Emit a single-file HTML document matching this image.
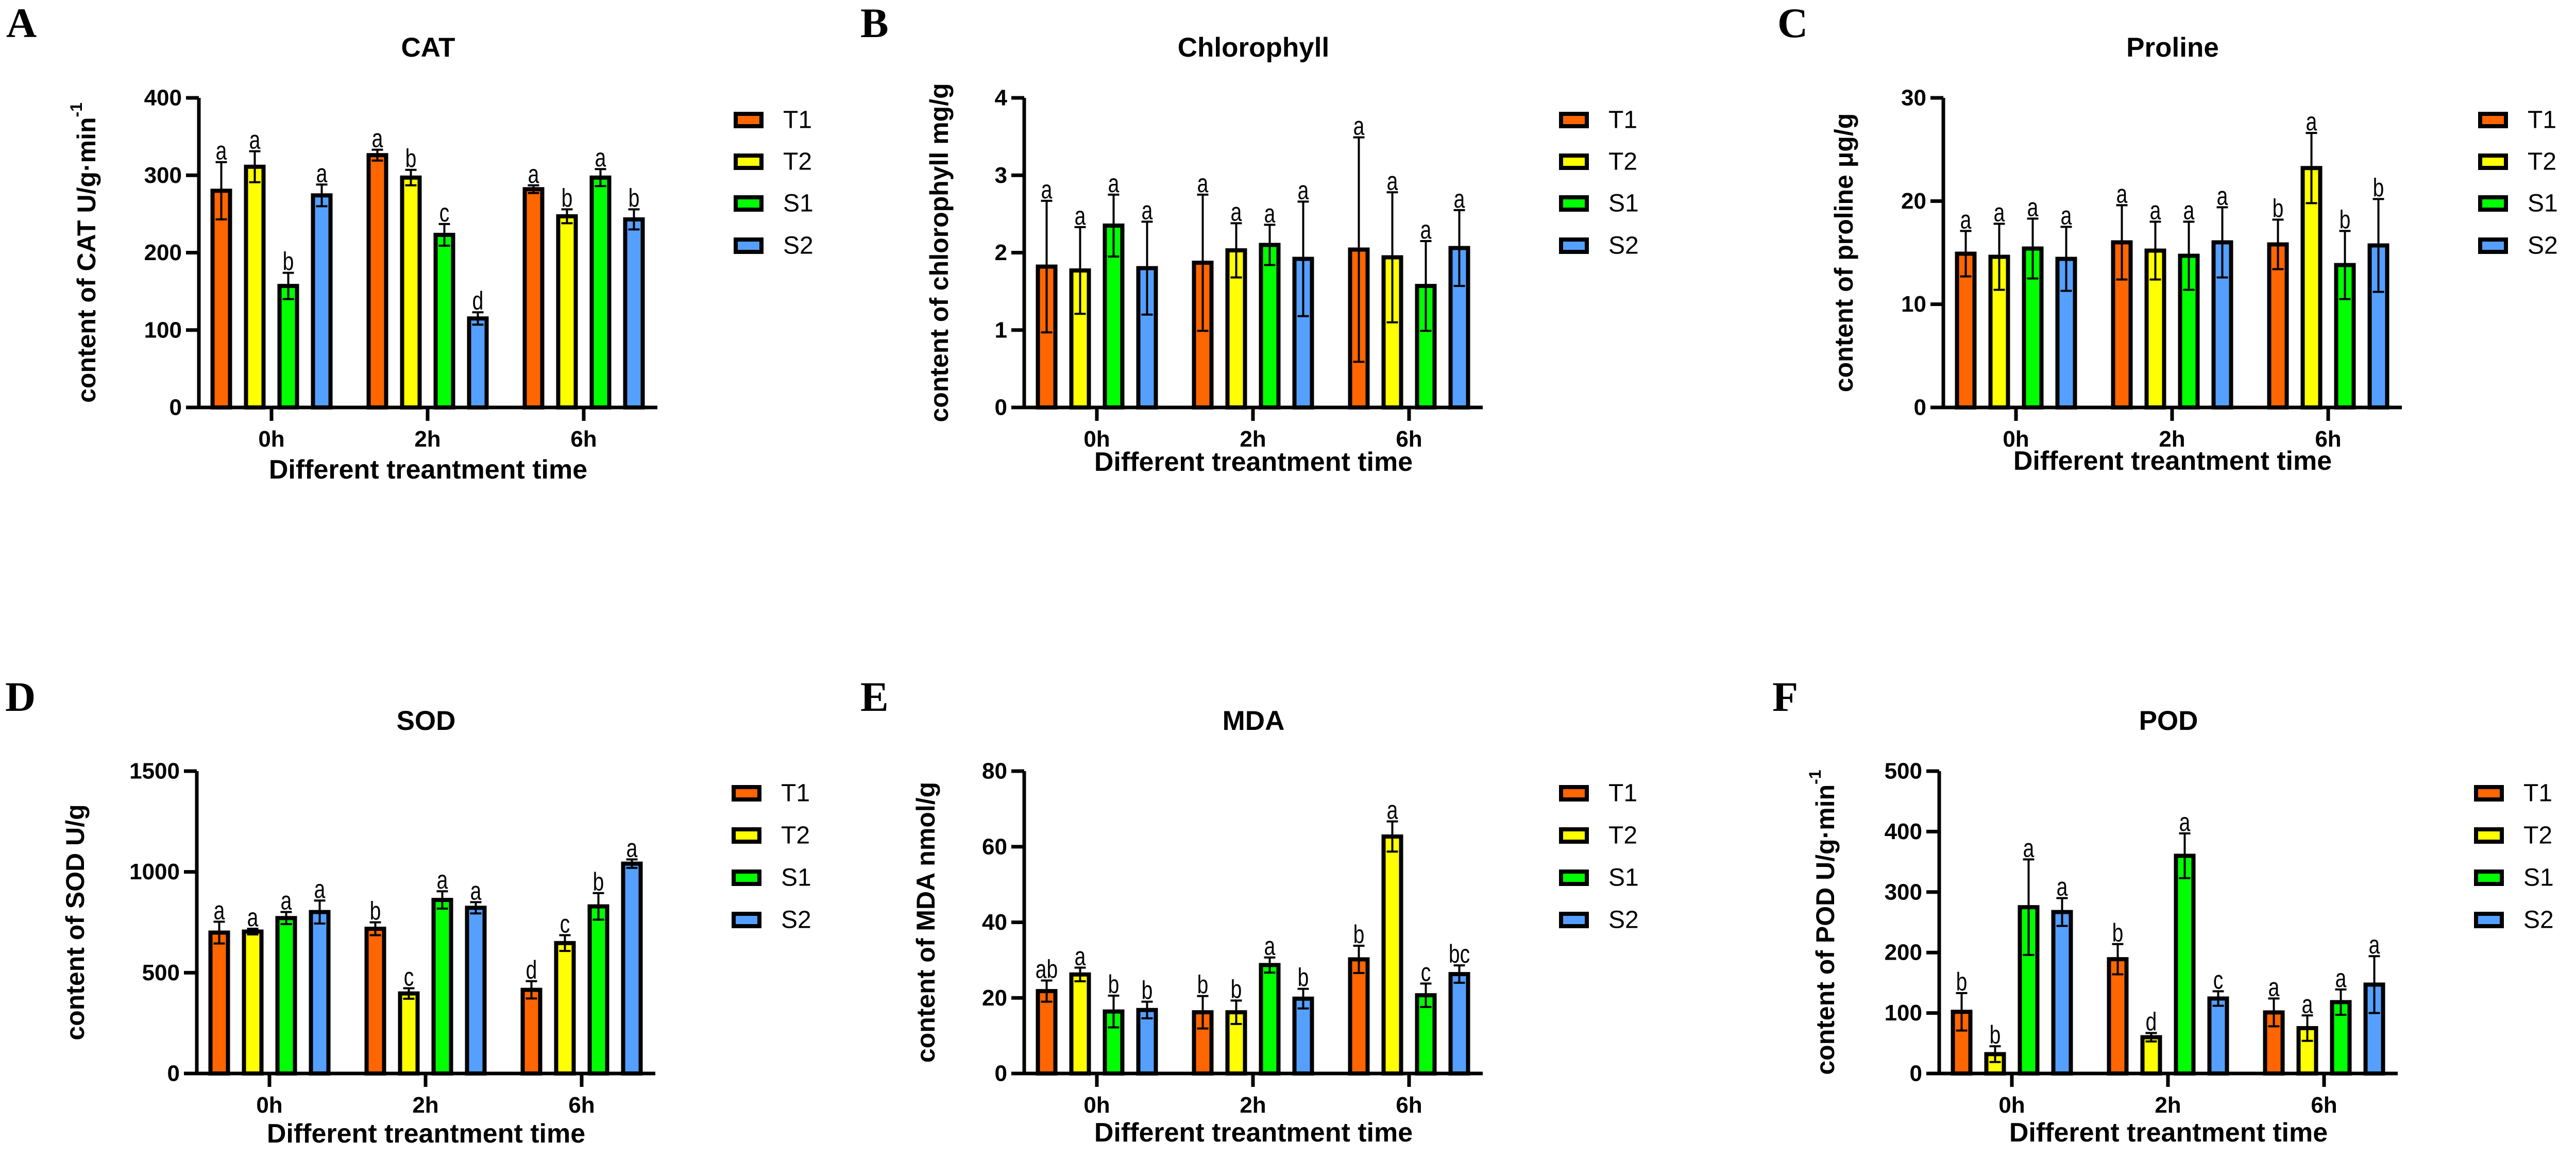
<!DOCTYPE html>
<html><head><meta charset="utf-8"><style>
html,body{margin:0;padding:0;background:#fff;}
svg{display:block;}
text{font-family:"Liberation Sans",Arial,sans-serif;}
text.serif{font-family:"Liberation Serif","Times New Roman",serif;}
</style></head><body>
<svg id="fig" xmlns="http://www.w3.org/2000/svg" width="5062" height="2250" viewBox="0 0 5062 2250"></svg>
<script>
const groups = ["0h","2h","6h"];
const series = ["T1","T2","S1","S2"];
const colors = ["#ff6600","#ffff00","#00ff00","#55a0ff"];

const catVals = [[280,326,282],[311,297,247],[157,223,297],[274,115,243]];
const catErr = [[37,7,5],[20,10,9],[17,14,11],[14,8,13]];
const catSig = [["a","a","a"],["a","b","b"],["b","c","a"],["a","d","b"]];
const catTicks = [0,100,200,300,400];

const chlVals = [[1.82,1.87,2.04],[1.77,2.03,1.94],[2.35,2.10,1.57],[1.80,1.92,2.06]];
const chlErr = [[0.85,0.88,1.45],[0.56,0.35,0.84],[0.40,0.26,0.58],[0.60,0.74,0.49]];
const chlSig = [["a","a","a"],["a","a","a"],["a","a","a"],["a","a","a"]];
const chlTicks = [0,1,2,3,4];

const proVals = [[14.9,16.0,15.8],[14.6,15.2,23.2],[15.4,14.7,13.8],[14.4,16.0,15.7]];
const proErr = [[2.2,3.6,2.4],[3.2,2.8,3.4],[2.9,3.3,3.3],[3.1,3.4,4.5]];
const proSig = [["a","a","b"],["a","a","a"],["a","a","b"],["a","a","b"]];
const proTicks = [0,10,20,30];

const sodVals = [[699,718,415],[704,397,647],[771,861,829],[801,822,1041]];
const sodErr = [[54,32,43],[14,26,39],[30,43,66],[57,28,21]];
const sodSig = [["a","b","d"],["a","c","c"],["a","a","b"],["a","a","a"]];
const sodTicks = [0,500,1000,1500];

const mdaVals = [[21.8,16.2,30.2],[26.2,16.2,62.7],[16.4,28.7,20.7],[16.8,19.8,26.3]];
const mdaErr = [[2.8,4.3,3.6],[1.8,3.1,4.0],[4.2,2.0,3.1],[2.2,2.6,2.3]];
const mdaSig = [["ab","b","b"],["a","b","a"],["b","a","c"],["b","b","bc"]];
const mdaTicks = [0,20,40,60,80];

const podVals = [[102,189,101],[32,60,75],[275,360,118],[267,124,147]];
const podErr = [[31,25,23],[13,7,21],[79,37,21],[23,12,47]];
const podSig = [["b","b","a"],["b","d","a"],["a","a","a"],["a","c","a"]];
const podTicks = [0,100,200,300,400,500];

const NS="http://www.w3.org/2000/svg";
const svg=document.getElementById("fig");
function mk(tag,attrs,parent){const e=document.createElementNS(NS,tag);for(const k in attrs)e.setAttribute(k,attrs[k]);(parent||svg).appendChild(e);return e;}

const panels=[
 {id:"cat",letter:"A",lx:12,ly:72,ax:386,top:190,zero:791,title:"CAT",ylab:"content of CAT U/g·min",sup:"-1",ylOff:218,xtOff:121,vals:catVals,err:catErr,sig:catSig,ticks:catTicks,leg:[233,314,395,477]},
 {id:"chlorophyll",letter:"B",lx:1670,ly:72,ax:1988,top:190,zero:791,title:"Chlorophyll",ylab:"content of chlorophyll mg/g",sup:"",ylOff:165,xtOff:106,vals:chlVals,err:chlErr,sig:chlSig,ticks:chlTicks,leg:[233,314,395,477]},
 {id:"proline",letter:"C",lx:3450,ly:72,ax:3772,top:190,zero:791,title:"Proline",ylab:"content of proline μg/g",sup:"",ylOff:193,xtOff:104,vals:proVals,err:proErr,sig:proSig,ticks:proTicks,leg:[233,314,395,477]},
 {id:"sod",letter:"D",lx:10,ly:1380,ax:382,top:1497,zero:2084,title:"SOD",ylab:"content of SOD U/g",sup:"",ylOff:236,xtOff:117,vals:sodVals,err:sodErr,sig:sodSig,ticks:sodTicks,leg:[1540,1622,1704,1786]},
 {id:"mda",letter:"E",lx:1670,ly:1380,ax:1988,top:1497,zero:2084,title:"MDA",ylab:"content of MDA nmol/g",sup:"",ylOff:191,xtOff:115,vals:mdaVals,err:mdaErr,sig:mdaSig,ticks:mdaTicks,leg:[1540,1622,1704,1786]},
 {id:"pod",letter:"F",lx:3440,ly:1380,ax:3764,top:1497,zero:2084,title:"POD",ylab:"content of POD U/g·min",sup:"-1",ylOff:221,xtOff:115,vals:podVals,err:podErr,sig:podSig,ticks:podTicks,leg:[1540,1622,1704,1786]}
];

panels.forEach(p=>{
  const g=mk("g",{});
  
  
  const W=890, ymax=p.ticks[p.ticks.length-1];
  const yScale=v=>p.zero-(v/ymax)*(p.zero-p.top);
  const gc=i=>p.ax+141+i*303;
  const bx=(i,s)=>gc(i)+(s-1.5)*65;

  const L=mk("text",{x:p.lx,y:p.ly,"class":"serif","font-weight":"bold","font-size":82},g);
  L.textContent=p.letter;
  
  

  const T=mk("text",{x:p.ax+445,y:p.top-80,"text-anchor":"middle","font-weight":"bold","font-size":53},g);
  T.textContent=p.title;
  
  

  const yl=mk("text",{transform:`translate(${p.ax-p.ylOff},${(p.top+p.zero)/2}) rotate(-90)`,"text-anchor":"middle","dominant-baseline":"central","font-weight":"bold","font-size":50},g);
  yl.textContent=p.ylab;
  if(p.sup){const ts=mk("tspan",{"font-size":32,dy:-20},yl);ts.textContent=p.sup;}
  
  

  for(let s=0;s<4;s++){for(let i=0;i<3;i++){
    const v=p.vals[s][i], e=p.err[s][i], cx=bx(i,s);
    const r=mk("rect",{x:cx-17,y:yScale(v),width:34,height:p.zero-yScale(v),fill:colors[s],stroke:"#000","stroke-width":8},g);
    
    
    const y1=yScale(v+e), y2=yScale(Math.max(0,v-e));
    const eb=mk("path",{d:`M${cx},${y1}V${y2}M${cx-11},${y1}H${cx+11}M${cx-11},${y2}H${cx+11}`,stroke:"#000","stroke-width":4,fill:"none"},g);
    
    
    const st=mk("text",{transform:`translate(${cx},${y1-5}) scale(0.78,1)`,"text-anchor":"middle","font-size":50},g);
    st.textContent=p.sig[s][i];
    
    
  }}

  const ya=mk("path",{d:`M${p.ax},${p.top}V${p.zero}`,stroke:"#000","stroke-width":7,fill:"none"},g);
  
  
  const xa=mk("path",{d:`M${p.ax-25},${p.zero}H${p.ax+W}`,stroke:"#000","stroke-width":7,fill:"none"},g);
  
  
  p.ticks.forEach(t=>{
    const y=yScale(t);
    mk("path",{d:`M${p.ax-25},${y}H${p.ax}`,stroke:"#000","stroke-width":7},g);
    const tl=mk("text",{x:p.ax-33,y:y,"text-anchor":"end","dominant-baseline":"central","font-weight":"bold","font-size":44},g);
    tl.textContent=t;
    
    
  });
  groups.forEach((gname,i)=>{
    mk("path",{d:`M${gc(i)},${p.zero}V${p.zero+26}`,stroke:"#000","stroke-width":7},g);
    const xl=mk("text",{x:gc(i),y:p.zero+76,"text-anchor":"middle","font-weight":"bold","font-size":44},g);
    xl.textContent=gname;
    
    
  });
  const xt=mk("text",{x:p.ax+445,y:p.zero+p.xtOff+17,"text-anchor":"middle","font-weight":"bold","font-size":52},g);
  xt.textContent="Different treantment time";
  
  

  series.forEach((sn,s)=>{
    const cy=p.leg[s], lx=p.ax+1038;
    const sw=mk("rect",{x:lx+4,y:cy-12,width:50,height:24,fill:colors[s],stroke:"#000","stroke-width":8},g);
    
    
    const lt=mk("text",{x:lx+96,y:cy,"dominant-baseline":"central","font-size":48},g);
    lt.textContent=sn;
    
    
  });
});
</script>
</body></html>
